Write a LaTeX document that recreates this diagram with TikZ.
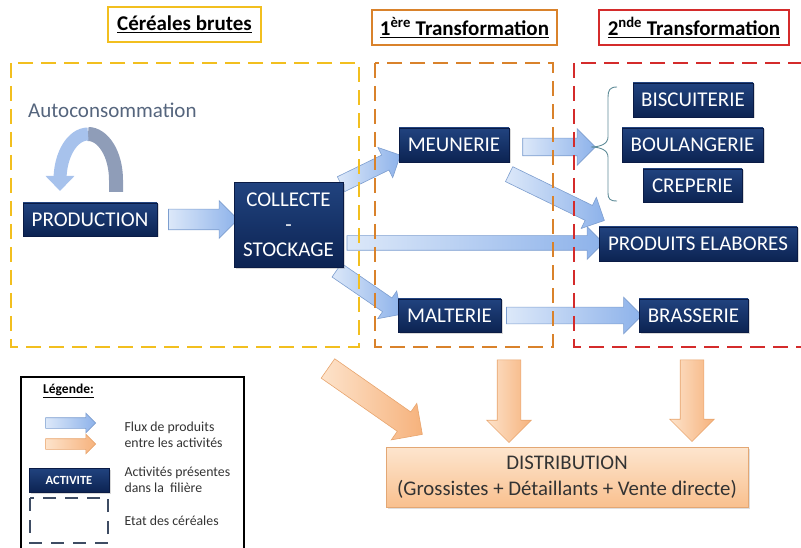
\documentclass[tikz,border=0pt]{standalone}
\usepackage{fontspec}
\setmainfont{Carlito}
\usetikzlibrary{shapes.arrows,calc,shadows,arrows.meta}
\definecolor{ylw}{HTML}{F2BF1F}
\definecolor{org}{HTML}{D9822B}
\definecolor{redb}{HTML}{D42B2B}
\definecolor{navyt}{HTML}{21437F}
\definecolor{navyd}{HTML}{0C2352}
\definecolor{navybd}{HTML}{0A1B45}
\definecolor{bluel}{HTML}{DCE8F9}
\definecolor{blued}{HTML}{8DB2EA}
\definecolor{bluebd}{HTML}{7D9ECF}
\definecolor{orl}{HTML}{FDE3CB}
\definecolor{ord}{HTML}{F6B27C}
\definecolor{orbd}{HTML}{E8A56E}
\definecolor{distt}{HTML}{FDE5CE}
\definecolor{distb}{HTML}{F9C08E}
\definecolor{distbd}{HTML}{E3A774}
\definecolor{autob}{HTML}{A7C2EC}
\definecolor{autog}{HTML}{8F9DB8}
\definecolor{autotxt}{HTML}{55657D}
\definecolor{legdash}{HTML}{3E4C63}
\definecolor{legtxt}{HTML}{333333}
\definecolor{bracec}{HTML}{5F8C98}
\pgfdeclarelayer{background}
\pgfsetlayers{background,main}
\tikzset{
  act/.style={draw=navybd, line width=0.6pt, top color=navyt, bottom color=navyd,
    text=white, font=\fontsize{21}{24}\selectfont, inner sep=0pt,
    drop shadow={opacity=0.3, shadow xshift=1.5pt, shadow yshift=-1.5pt}},
  ttl/.style={line width=2pt, fill=white, inner sep=0pt,
    font=\bfseries\fontsize{21}{24}\selectfont},
  dbox/.style={line width=2.5pt, dash pattern=on 15pt off 8pt},
  barr/.style n args={3}{single arrow, single arrow head extend=#3, minimum width=#2,
    inner xsep=0pt, inner ysep=#1, draw=bluebd, line width=0.6pt,
    left color=bluel, right color=blued},
  oarr/.style n args={3}{single arrow, single arrow head extend=#3, minimum width=#2,
    inner xsep=0pt, inner ysep=#1, draw=orbd, line width=0.6pt,
    left color=orl, right color=ord},
  legtext/.style={anchor=west, align=left, text=legtxt, font=\fontsize{13.8}{16}\selectfont},
}
\newcommand\flux[4]{%
  \path let \p1=#3, \p2=#4, \n1={atan2(\y2-\y1,\x2-\x1)}, \n2={veclen(\x2-\x1,\y2-\y1)} in
    node[#2, rotate=\n1, minimum height=\n2] (#1) at ($(\p1)!0.5!(\p2)$) {};}
\begin{document}
\begin{tikzpicture}[x=1pt,y=1pt]
\useasboundingbox (0,0) rectangle (801,-548);
% titles
\node[ttl, draw=ylw, minimum width=153, minimum height=35] (t1) at (184.5,-24.5) {\underline{Céréales brutes}};
\node[ttl, draw=org, minimum width=185, minimum height=35] (t2) at (464.5,-27.5) {\underline{1\textsuperscript{ère} Transformation}};
\node[ttl, draw=redb, minimum width=190, minimum height=35] (t3) at (694,-27.5) {\underline{2\textsuperscript{nde} Transformation}};
% dashed state boxes
\draw[dbox, draw=ylw] (11,-63) rectangle (359,-347);
\draw[dbox, draw=org] (375,-63) rectangle (553,-347);
\draw[dbox, draw=redb] (574,-63) rectangle (830,-347);
% activities
\node[act, minimum width=134, minimum height=33] (prod) at (90,-219.5) {PRODUCTION};
\node[act, minimum width=109, minimum height=85, align=center, font=\fontsize{21}{25}\selectfont] (coll) at (288.5,-225) {COLLECTE\\-\\STOCKAGE};
\node[act, minimum width=110, minimum height=34] (meun) at (454,-145) {MEUNERIE};
\node[act, minimum width=103, minimum height=33] (malt) at (449.5,-315.5) {MALTERIE};
\node[act, minimum width=120, minimum height=34] (bisc) at (693,-100) {BISCUITERIE};
\node[act, minimum width=141, minimum height=34] (boul) at (692.5,-145) {BOULANGERIE};
\node[act, minimum width=99, minimum height=33] (crep) at (692.5,-185.5) {CREPERIE};
\node[act, minimum width=198, minimum height=34] (prodel) at (698,-244) {PRODUITS ELABORES};
\node[act, minimum width=109, minimum height=33] (brass) at (693.5,-315.5) {BRASSERIE};
\node[draw=distbd, line width=0.8pt, top color=distt, bottom color=distb, minimum width=362, minimum height=60,
  align=center, text=legtxt, font=\fontsize{20.8}{26}\selectfont,
  drop shadow={opacity=0.25, shadow xshift=1.5pt, shadow yshift=-1.5pt}] (dist) at (567,-477.5)
  {DISTRIBUTION\\(Grossistes + Détaillants + Vente directe)};
% autoconsommation
\node[anchor=west, text=autotxt, font=\fontsize{21}{24}\selectfont, inner sep=0pt] (auto) at (28,-110) {Autoconsommation};
\draw[line width=14pt, autog] (116,-192) -- (116,-180) arc[start angle=0, end angle=90, x radius=28, y radius=46];
\draw[line width=13pt, autob, -{Triangle[width=28pt,length=15pt]}] (88,-134) arc[start angle=90, end angle=180, x radius=28, y radius=46] -- (60,-191);
% brace
\coordinate (btip) at (591,-147);
\draw[bracec, line width=0.9pt] (617,-87) .. controls (610,-87) and (608,-90) .. (608,-97) -- (608,-137)
  .. controls (608,-144) and (600,-147) .. (btip) .. controls (600,-147) and (608,-150) .. (608,-157)
  -- (608,-193) .. controls (608,-199) and (610,-201) .. (617,-201);
% flows
\begin{pgfonlayer}{background}
\flux{f1}{barr={10}{37}{8.5}}{($(prod.east)+(6,0)$)}{($(coll.west|-prod.east)+(-1,0)$)}
\flux{f2}{barr={8}{33}{8.5}}{($(coll.east)+(-6,39)$)}{($(meun.west)+(-2,-12)$)}
\flux{f3}{barr={7}{32}{9}}{($(coll.east)+(0,-18)$)}{($(prodel.west)+(1,1)$)}
\flux{f4}{barr={8}{33}{8.5}}{($(coll.south east)+(-10,0)$)}{($(malt.west)+(0,3.5)$)}
\flux{f5}{barr={8.5}{36}{9.5}}{($(meun.east)+(9,-2)$)}{(btip)}
\flux{f6}{barr={8}{34}{9}}{($(meun.south east)+(-4,-10)$)}{($(prodel.north west)+(2,8)$)}
\flux{f7}{barr={8}{36}{10}}{($(malt.east)+(1,0)$)}{($(brass.west)+(-1,0)$)}
\coordinate (o1s) at (323,-365);
\coordinate (o2s) at (509,-354);
\coordinate (o3s) at (692,-354);
\flux{g1}{oarr={11.5}{44}{10.5}}{(o1s)}{($(dist.north west)+(32,16)$)}
\flux{g2}{oarr={11.5}{44}{10.5}}{(o2s)}{($(o2s|-dist.north)+(0,10.5)$)}
\flux{g3}{oarr={11.5}{44}{10.5}}{(o3s)}{($(o3s|-dist.north)+(0,11.5)$)}
\end{pgfonlayer}
% legend
\draw[line width=2.5pt] (21,-377) rectangle (244,-570);
\node[anchor=west, inner sep=0pt, text=black, font=\bfseries\fontsize{13.5}{15}\selectfont] (legt) at (43,-391) {\underline{Légende:}};
\coordinate (lb1) at (43,-423);
\coordinate (lb2) at (93,-423);
\coordinate (lo1) at (43,-444);
\coordinate (lo2) at (93,-444);
\flux{lfb}{barr={5}{19}{4.5}}{(lb1)}{(lb2)}
\flux{lfo}{oarr={5}{19}{4.5}}{(lo1)}{(lo2)}
\node[act, font=\bfseries\fontsize{12.5}{14}\selectfont, minimum width=80, minimum height=24] (lact) at (69,-480) {ACTIVITE};
\draw[line width=2pt, legdash, dash pattern=on 13pt off 9pt] (30,-498) rectangle (108,-543);
\node[legtext] (l1) at (121,-435) {Flux de produits\\entre les activités};
\node[legtext] (l2) at (121,-479.5) {Activités présentes\\dans la \ filière};
\node[legtext] (l3) at (121,-521) {Etat des céréales};
\end{tikzpicture}
\end{document}
